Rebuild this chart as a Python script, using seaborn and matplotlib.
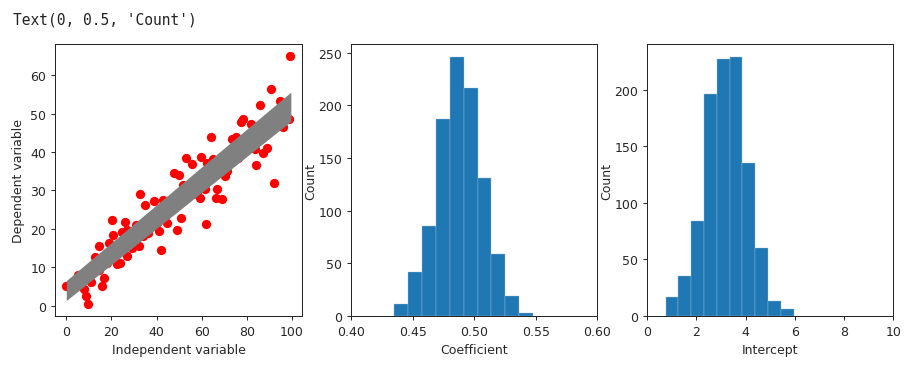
import numpy as np
import pandas as pd
import matplotlib
matplotlib.use("Agg")
import matplotlib.pyplot as plt
import seaborn as sns

sns.set_style("ticks")
plt.rcParams['font.family'] = ['DejaVu Sans']
plt.rcParams['font.size'] = 10

DPI = 90

# scatter data
x_points = [0.1, 5, 8, 8.8, 9.8, 11, 12.9, 14.3, 14.6, 15.7, 16.8, 18.9, 20.2, 20.6,
            22.7, 23.9, 24.9, 25.9, 26.8, 27, 28.8, 29.3, 30.7, 32.2, 32.6, 34.1,
            34.7, 38, 38.8, 40.3, 41, 42, 42.9, 43.9, 44.7, 47.9, 49.8, 49, 50.7,
            51.7, 52.9, 55.6, 55, 57.8, 59, 59.3, 59.9, 61.5, 61.8, 62.5, 64, 65.2,
            66.6, 66.3, 68.4, 69, 70.3, 71.3, 73.5, 75.1, 76.1, 77.2, 78.3, 79.8,
            82, 83.5, 84.2, 85.9, 87.1, 89, 90.8, 91.9, 94.9, 95.9, 98.5, 99.1,
            3, 18, 36, 46, 57, 72, 88]
y_points = [5.2, 8, 4.3, 2.4, 0.5, 6.2, 12.6, 9.2, 15.4, 5.2, 7.2, 16.2, 22.4, 18.3,
            10.7, 11.1, 19.1, 21.7, 13, 19.8, 16.3, 15, 21.1, 15.5, 29.1, 18.1,
            26.2, 21, 27.2, 21.6, 19.3, 14.4, 27.5, 23.3, 21.4, 34.4, 33.9, 19.7, 22.9,
            31.3, 38.4, 36.8, 28.7, 29, 30.3, 28.1, 38.6, 30.3, 21.3, 37.2, 44, 38.3,
            30.3, 28.1, 34.6, 27.8, 33.7, 35, 43.3, 44, 38.5, 47.7, 48.7, 40.7,
            47.2, 40.7, 36.5, 52.2, 39.8, 41.1, 56.3, 32, 53.3, 46.5, 48.5, 64.9,
            4.5, 11, 19, 26, 30, 39, 45]

# envelope of the bootstrapped regression lines
band_x = [0.0, 99.5]
band_lower = [1.3, 48.0]
band_upper = [6.5, 55.6]

# bootstrap histogram of the coefficient
coef_edges = [0.4352, 0.4464, 0.4577, 0.4689, 0.4802, 0.4914, 0.5027, 0.5139,
              0.5252, 0.5364, 0.5477]
coef_counts = [11, 42, 85, 187, 246, 217, 131, 59, 19, 3]

# bootstrap histogram of the intercept
icpt_edges = [0.75, 1.27, 1.79, 2.31, 2.83, 3.35, 3.87, 4.39, 4.91, 5.43, 5.95]
icpt_counts = [17, 35, 84, 196, 227, 229, 135, 60, 13, 6]

fig = plt.figure(figsize=(905 / DPI, 371 / DPI), dpi=DPI)
ax1 = fig.add_axes([0.0608, 0.1456, 0.273, 0.733])
ax2 = fig.add_axes([0.388, 0.1456, 0.272, 0.733])
ax3 = fig.add_axes([0.715, 0.1456, 0.272, 0.733])

scatter_df = pd.DataFrame({'x': x_points, 'y': y_points})
sns.scatterplot(data=scatter_df, x='x', y='y', color='red', s=55, linewidth=0,
                ax=ax1, zorder=2)
ax1.fill_between(band_x, band_lower, band_upper, color='grey', linewidth=0, zorder=3)
ax1.set_xlabel('Independent variable')
ax1.set_ylabel('Dependent variable')
ax1.set_xticks([0, 20, 40, 60, 80, 100])
ax1.set_yticks([0, 10, 20, 30, 40, 50, 60])


def draw_hist(ax, edges, counts):
    centers = [(edges[i] + edges[i + 1]) / 2 for i in range(len(counts))]
    sns.histplot(x=centers, weights=counts, bins=edges, color='#1f77b4', alpha=1,
                 edgecolor='#9fc1dd', linewidth=0.3, ax=ax)
    ax.set_ylim(0, max(counts) * 1.05)


draw_hist(ax2, coef_edges, coef_counts)
ax2.set_xlim(0.4, 0.6)
ax2.set_xticks([0.40, 0.45, 0.50, 0.55, 0.60])
ax2.set_xticklabels(['0.40', '0.45', '0.50', '0.55', '0.60'])
ax2.set_xlabel('Coefficient')
ax2.set_ylabel('Count', labelpad=1)

draw_hist(ax3, icpt_edges, icpt_counts)
ax3.set_xlim(0, 10)
ax3.set_xticks([0, 2, 4, 6, 8, 10])
ax3.set_yticks([0, 50, 100, 150, 200])
ax3.set_xlabel('Intercept')
ax3.set_ylabel('Count', labelpad=1)

fig.text(0.0144, 0.935, "Text(0, 0.5, 'Count')", family='DejaVu Sans Mono',
         fontsize=11.7, color='#222222')

fig.savefig('out.png', dpi=DPI, facecolor='white')
